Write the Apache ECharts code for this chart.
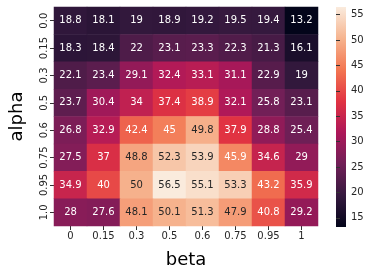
<!DOCTYPE html>
<html><head><meta charset="utf-8">
<script src="https://cdn.jsdelivr.net/npm/echarts@6/dist/echarts.min.js"></script>
<style>html,body{margin:0;padding:0;background:#fff}#c{width:374px;height:274px}</style>
</head><body><div id="c"></div>
<script>
const betaLabels = ['0','0.15','0.3','0.5','0.6','0.75','0.95','1'];
const alphaLabels = ['0.0','0.15','0.3','0.5','0.6','0.75','0.95','1.0'];
const row_a00 = [18.8,18.1,19,18.9,19.2,19.5,19.4,13.2];
const row_a015 = [18.3,18.4,22,23.1,23.3,22.3,21.3,16.1];
const row_a03 = [22.1,23.4,29.1,32.4,33.1,31.1,22.9,19];
const row_a05 = [23.7,30.4,34,37.4,38.9,32.1,25.8,23.1];
const row_a06 = [26.8,32.9,42.4,45,49.8,37.9,28.8,25.4];
const row_a075 = [27.5,37,48.8,52.3,53.9,45.9,34.6,29];
const row_a095 = [34.9,40,50,56.5,55.1,53.3,43.2,35.9];
const row_a10 = [28,27.6,48.1,50.1,51.3,47.9,40.8,29.2];
const rows = [row_a00,row_a015,row_a03,row_a05,row_a06,row_a075,row_a095,row_a10];
const cbTicks = [15,20,25,30,35,40,45,50,55];
const vmin = 13.2, vmax = 56.5;
const rocket = ['#03051a','#35193e','#701f57','#ad1759','#e13342','#f37651','#f6b48f','#faebdd'];

const data = [];
rows.forEach((r, i) => r.forEach((v, j) => {
  data.push({value: [j, i, v], label: {color: v > 46.5 ? '#262626' : '#ffffff'}});
}));

const chart = echarts.init(document.getElementById('c'), null, {renderer: 'canvas'});
const font = 'DejaVu Sans';
chart.setOption({
  animation: false,
  textStyle: {fontFamily: font},
  grid: [
    {left: 46, top: 7, width: 272, height: 221},
    {left: 336, top: 7, width: 10, height: 220, show: true, borderWidth: 0,
     backgroundColor: new echarts.graphic.LinearGradient(0, 1, 0, 0,
       rocket.map((c, k) => ({offset: k / (rocket.length - 1), color: c})))}
  ],
  xAxis: [
    {type: 'category', data: betaLabels, gridIndex: 0, name: 'beta', nameLocation: 'middle', nameGap: 25,
     nameTextStyle: {fontSize: 18, color: '#000', fontFamily: font},
     axisLine: {show: false}, axisTick: {show: true, alignWithLabel: true, interval: 0, length: 4, lineStyle: {color: '#333'}},
     axisLabel: {interval: 0, fontSize: 10, color: '#262626', margin: 5, fontFamily: font}, splitLine: {show: false}},
    {type: 'value', gridIndex: 1, show: false, min: 0, max: 1}
  ],
  yAxis: [
    {type: 'category', data: alphaLabels, gridIndex: 0, inverse: true, name: 'alpha', nameLocation: 'middle', nameGap: 28,
     nameRotate: 90, nameTextStyle: {fontSize: 18, color: '#000', fontFamily: font},
     axisLine: {show: false}, axisTick: {show: true, alignWithLabel: true, interval: 0, length: 4, lineStyle: {color: '#333'}},
     axisLabel: {interval: 0, fontSize: 10, color: '#262626', rotate: 90, margin: 5, fontFamily: font}, splitLine: {show: false}},
    {type: 'value', gridIndex: 1, position: 'right', min: vmin, max: vmax,
     axisLine: {show: false}, splitLine: {show: false},
     axisTick: {show: true, length: 4, customValues: cbTicks, lineStyle: {color: '#333'}},
     axisLabel: {fontSize: 10, color: '#262626', margin: 5, customValues: cbTicks, fontFamily: font}}
  ],
  visualMap: {show: false, min: vmin, max: vmax, dimension: 2, seriesIndex: 0, inRange: {color: rocket}},
  series: [{
    type: 'heatmap', xAxisIndex: 0, yAxisIndex: 0, data: data,
    label: {show: true, fontSize: 10, fontFamily: font, formatter: p => String(p.value[2])},
    itemStyle: {borderWidth: 0}
  }]
});
</script></body></html>
